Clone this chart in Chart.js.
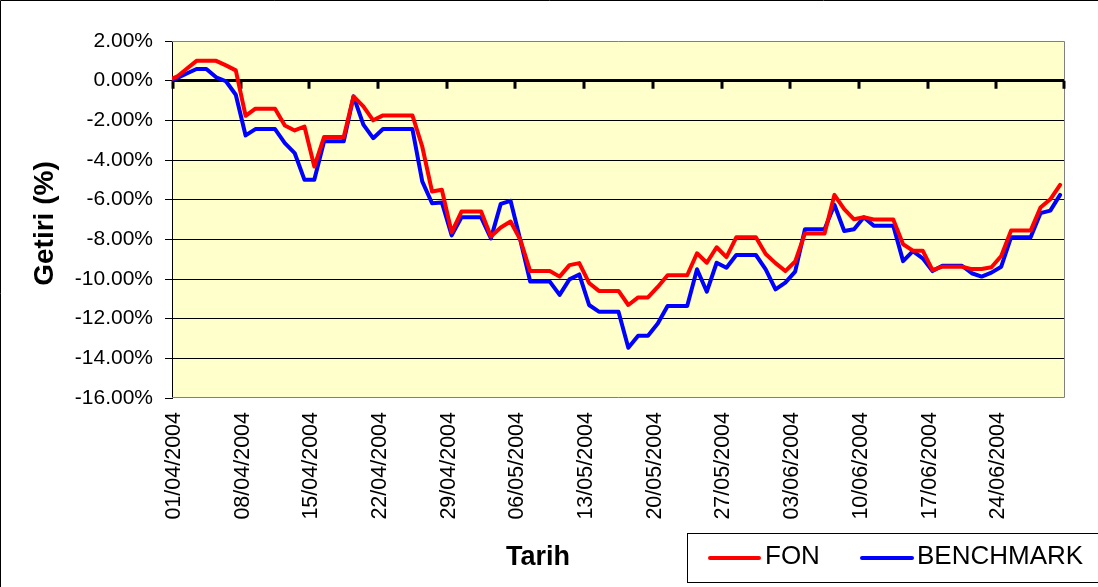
<!DOCTYPE html>
<html>
<head>
<meta charset="utf-8">
<script src="https://cdn.jsdelivr.net/npm/chart.js@4/dist/chart.umd.min.js"></script>
<style>
  html, body { margin: 0; padding: 0; background: #ffffff; }
  canvas { display: block; }
</style>
</head>
<body>
<canvas id="c" width="1098" height="587"></canvas>
<script>
// ---------- DATA ----------
const dates = [
  '31/03/2004',
  '01/04/2004','02/04/2004','03/04/2004','04/04/2004','05/04/2004','06/04/2004','07/04/2004','08/04/2004','09/04/2004','10/04/2004',
  '11/04/2004','12/04/2004','13/04/2004','14/04/2004','15/04/2004','16/04/2004','17/04/2004','18/04/2004','19/04/2004','20/04/2004',
  '21/04/2004','22/04/2004','23/04/2004','24/04/2004','25/04/2004','26/04/2004','27/04/2004','28/04/2004','29/04/2004','30/04/2004',
  '01/05/2004','02/05/2004','03/05/2004','04/05/2004','05/05/2004','06/05/2004','07/05/2004','08/05/2004','09/05/2004','10/05/2004',
  '11/05/2004','12/05/2004','13/05/2004','14/05/2004','15/05/2004','16/05/2004','17/05/2004','18/05/2004','19/05/2004','20/05/2004',
  '21/05/2004','22/05/2004','23/05/2004','24/05/2004','25/05/2004','26/05/2004','27/05/2004','28/05/2004','29/05/2004','30/05/2004','31/05/2004',
  '01/06/2004','02/06/2004','03/06/2004','04/06/2004','05/06/2004','06/06/2004','07/06/2004','08/06/2004','09/06/2004','10/06/2004',
  '11/06/2004','12/06/2004','13/06/2004','14/06/2004','15/06/2004','16/06/2004','17/06/2004','18/06/2004','19/06/2004','20/06/2004',
  '21/06/2004','22/06/2004','23/06/2004','24/06/2004','25/06/2004','26/06/2004','27/06/2004','28/06/2004','29/06/2004','30/06/2004'
];

const baseValue = [0];

const fonApr = [0.20, 0.60, 1.00, 1.00, 1.00, 0.77, 0.52, -1.77, -1.41, -1.41,
                -1.41, -2.26, -2.51, -2.31, -4.33, -2.84, -2.84, -2.84, -0.79, -1.30,
                -2.00, -1.75, -1.75, -1.75, -1.75, -3.32, -5.59, -5.50, -7.65, -6.60];
const fonMay = [-6.60, -6.60, -7.86, -7.40, -7.10, -8.03, -9.60, -9.60, -9.60, -9.88,
                -9.30, -9.20, -10.20, -10.60, -10.60, -10.60, -11.31, -10.93, -10.93, -10.40,
                -9.81, -9.81, -9.81, -8.70, -9.18, -8.40, -8.90, -7.90, -7.90, -7.90, -8.74];
const fonJun = [-9.20, -9.60, -9.12, -7.70, -7.70, -7.70, -5.76, -6.48, -6.99, -6.89,
                -7.00, -7.00, -7.00, -8.25, -8.57, -8.57, -9.55, -9.38, -9.38, -9.38,
                -9.50, -9.50, -9.41, -8.84, -7.56, -7.56, -7.56, -6.40, -5.98, -5.25];

const benchApr = [0.12, 0.36, 0.59, 0.59, 0.17, -0.03, -0.71, -2.76, -2.44, -2.44,
                  -2.44, -3.15, -3.65, -5.00, -5.00, -3.06, -3.06, -3.06, -0.79, -2.22,
                  -2.90, -2.44, -2.44, -2.44, -2.44, -5.08, -6.18, -6.14, -7.80, -6.89];
const benchMay = [-6.89, -6.89, -7.95, -6.21, -6.06, -8.05, -10.13, -10.13, -10.13, -10.80,
                  -10.02, -9.77, -11.31, -11.65, -11.65, -11.65, -13.47, -12.86, -12.86, -12.24,
                  -11.36, -11.36, -11.36, -9.51, -10.64, -9.18, -9.43, -8.79, -8.79, -8.79, -9.51];
const benchJun = [-10.52, -10.18, -9.63, -7.49, -7.49, -7.49, -6.26, -7.58, -7.49, -6.89,
                  -7.31, -7.31, -7.31, -9.10, -8.59, -8.96, -9.60, -9.33, -9.33, -9.33,
                  -9.71, -9.88, -9.68, -9.38, -7.90, -7.90, -7.90, -6.68, -6.55, -5.76];

const fon = [...baseValue, ...fonApr, ...fonMay, ...fonJun];
const benchmark = [...baseValue, ...benchApr, ...benchMay, ...benchJun];

const tickLabels = ['01/04/2004','08/04/2004','15/04/2004','22/04/2004','29/04/2004','06/05/2004','13/05/2004',
                    '20/05/2004','27/05/2004','03/06/2004','10/06/2004','17/06/2004','24/06/2004'];
const seriesNames = ['FON', 'BENCHMARK'];
const yTitle = 'Getiri (%)';
const xTitle = 'Tarih';

// ---------- HELPERS ----------
const FONT = "'Liberation Sans', Arial, Helvetica, sans-serif";
// each date occupies a one-day slot; the point sits in the middle of its slot,
// the date tick sits at the slot's left edge
const slotStart = label => dates.indexOf(label) - 1;
const toPoints = vals => vals.map((v, i) => ({ x: i - 0.5, y: v }));

const backgroundPlugin = {
  id: 'plotBg',
  beforeDraw(chart) {
    const { ctx, chartArea: a } = chart;
    ctx.save();
    ctx.fillStyle = '#FFFFCC';
    ctx.fillRect(a.left, a.top, a.right - a.left, a.bottom - a.top);
    ctx.restore();
  }
};

const decoPlugin = {
  id: 'deco',
  beforeDatasetsDraw(chart) {
    const { ctx, chartArea: a, scales } = chart;
    ctx.save();
    // grey plot border (top, right, bottom)
    ctx.strokeStyle = '#808080';
    ctx.lineWidth = 1;
    ctx.beginPath();
    ctx.moveTo(a.left, a.top + 0.5); ctx.lineTo(a.right - 0.5, a.top + 0.5);
    ctx.lineTo(a.right - 0.5, a.bottom - 0.5); ctx.lineTo(a.left, a.bottom - 0.5);
    ctx.stroke();
    // category tick marks on the zero line (the axis crosses at 0)
    const y0 = scales.y.getPixelForValue(0);
    const xs = scales.x.ticks.map(t => t.value);
    xs.push(scales.x.max);
    ctx.strokeStyle = '#000';
    ctx.lineWidth = 3;
    ctx.beginPath();
    xs.forEach(v => {
      const px = Math.round(scales.x.getPixelForValue(v));
      const cx = Math.min(Math.max(px, a.left + 1), a.right - 1);
      ctx.moveTo(cx, y0);
      ctx.lineTo(cx, y0 + 8);
    });
    ctx.stroke();
    ctx.restore();
  },
  afterDraw(chart) {
    const { ctx } = chart;
    ctx.save();
    // outer border (top & left visible)
    ctx.strokeStyle = '#000';
    ctx.lineWidth = 1;
    ctx.beginPath();
    ctx.moveTo(0.5, chart.height); ctx.lineTo(0.5, 0.5); ctx.lineTo(chart.width, 0.5);
    ctx.stroke();

    ctx.fillStyle = '#000';
    // y title
    ctx.save();
    ctx.translate(52.5, 223.5);
    ctx.rotate(-Math.PI / 2);
    ctx.font = 'bold 28px ' + FONT;
    ctx.textAlign = 'center';
    ctx.textBaseline = 'alphabetic';
    ctx.fillText(yTitle, 0, 0);
    ctx.restore();
    // x title
    ctx.font = 'bold 27px ' + FONT;
    ctx.textAlign = 'center';
    ctx.textBaseline = 'alphabetic';
    ctx.fillText(xTitle, 538, 565);

    // legend
    ctx.strokeStyle = '#000';
    ctx.lineWidth = 1;
    ctx.strokeRect(687.5, 533.5, 420, 49);
    const items = [
      { x1: 710, x2: 759, tx: 765 },
      { x1: 862, x2: 912, tx: 917 }
    ];
    ctx.font = '26px ' + FONT;
    ctx.textAlign = 'left';
    ctx.textBaseline = 'alphabetic';
    chart.data.datasets.forEach((ds, i) => {
      const it = items[i];
      ctx.strokeStyle = ds.borderColor;
      ctx.lineWidth = 4;
      ctx.lineCap = 'round';
      ctx.beginPath();
      ctx.moveTo(it.x1, 558); ctx.lineTo(it.x2, 558);
      ctx.stroke();
      ctx.fillStyle = '#000';
      ctx.fillText(ds.label, it.tx, 564);
    });
    ctx.restore();
  }
};

new Chart(document.getElementById('c').getContext('2d'), {
  type: 'line',
  data: {
    datasets: [
      { label: seriesNames[0], data: toPoints(fon), borderColor: '#FF0000', borderWidth: 4,
        pointRadius: 0, tension: 0, fill: false, borderJoinStyle: 'round', borderCapStyle: 'round' },
      { label: seriesNames[1], data: toPoints(benchmark), borderColor: '#0000FF', borderWidth: 4,
        pointRadius: 0, tension: 0, fill: false, borderJoinStyle: 'round', borderCapStyle: 'round' }
    ]
  },
  options: {
    responsive: false,
    animation: false,
    devicePixelRatio: 1,
    layout: { padding: { left: 0, top: 41, right: 33, bottom: 0 } },
    plugins: { legend: { display: false }, tooltip: { enabled: false } },
    scales: {
      x: {
        type: 'linear',
        min: 0,
        max: dates.length - 1,
        afterBuildTicks: s => { s.ticks = tickLabels.map(l => ({ value: slotStart(l) })); },
        afterFit: s => { s.height = 189; },
        grid: { display: false, drawTicks: false },
        border: { display: false },
        ticks: {
          autoSkip: false, minRotation: 90, maxRotation: 90, padding: 14, labelOffset: 2,
          color: '#000', font: { family: FONT, size: 21.5 },
          callback: (v, i) => tickLabels[i]
        }
      },
      y: {
        min: -16,
        max: 2,
        afterFit: s => { s.width = 172; },
        grid: {
          color: c => (c.tick && (c.tick.value === 2 || c.tick.value === -16)) ? 'rgba(0,0,0,0)' : '#000',
          lineWidth: c => (c.tick && c.tick.value === 0) ? 3 : 1,
          tickColor: '#000',
          tickWidth: 1,
          tickLength: 7,
          drawTicks: true
        },
        border: { display: true, color: '#000', width: 1 },
        ticks: {
          stepSize: 2, padding: 12, color: '#000', font: { family: FONT, size: 21 },
          callback: v => v.toFixed(2) + '%'
        }
      }
    }
  },
  plugins: [backgroundPlugin, decoPlugin]
});
</script>
</body>
</html>
